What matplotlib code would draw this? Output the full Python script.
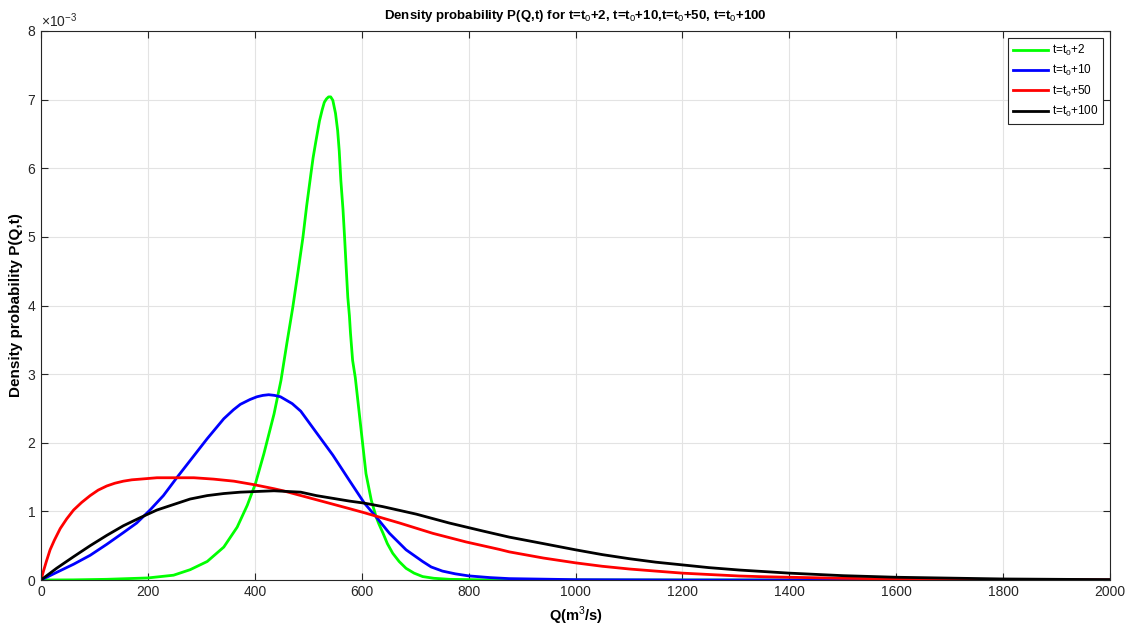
import matplotlib
matplotlib.use("Agg")
from matplotlib import pyplot as plt
from matplotlib.ticker import ScalarFormatter, MultipleLocator
import numpy as np

plt.rcParams['font.family'] = ['Liberation Sans', 'DejaVu Sans']
plt.rcParams['mathtext.fontset'] = 'custom'
plt.rcParams['mathtext.rm'] = 'Liberation Sans'
plt.rcParams['mathtext.bf'] = 'Liberation Sans:bold'

# P(Q,t) per curve, values in units of 1e-3
q_2 = [0, 60, 123, 200, 248, 279, 311, 342, 367, 386, 401, 417, 436, 449, 460,
       471, 481, 490, 497, 505, 509, 514, 521, 526, 530, 534, 538, 542, 546, 551,
       555, 558, 561, 565, 568, 571, 574, 577, 579, 583, 588, 593, 599, 608, 618,
       627, 632, 640, 648, 658, 670, 683, 698, 714, 735, 764, 850, 1000, 2000]
p_2 = [0, 0.002, 0.01, 0.03, 0.07, 0.15, 0.27, 0.48, 0.77, 1.09, 1.40, 1.84, 2.42, 2.91, 3.45,
       3.97, 4.50, 4.99, 5.45, 5.92, 6.15, 6.38, 6.69, 6.85, 6.96, 7.01, 7.04, 7.04, 6.99, 6.80,
       6.55, 6.25, 5.82, 5.40, 4.99, 4.55, 4.12, 3.85, 3.60, 3.20, 2.95, 2.60, 2.18, 1.55, 1.16,
       0.92, 0.82, 0.68, 0.53, 0.39, 0.27, 0.17, 0.10, 0.05, 0.025, 0.01, 0.0, 0.0, 0.0]

q_10 = [0, 29, 61, 92, 123, 154, 179, 204, 229, 254, 279, 311, 342, 360, 373, 391,
        404, 415, 426, 437, 448, 459, 470, 486, 515, 546, 577, 605, 627, 652, 683,
        714, 730, 751, 775, 800, 840, 876, 1000, 1200, 2000]
p_10 = [0, 0.11, 0.23, 0.36, 0.52, 0.69, 0.83, 1.02, 1.23, 1.49, 1.74, 2.06, 2.35, 2.48, 2.56, 2.63,
        2.67, 2.69, 2.70, 2.69, 2.67, 2.62, 2.57, 2.46, 2.15, 1.82, 1.45, 1.12, 0.92, 0.68, 0.44,
        0.27, 0.19, 0.13, 0.09, 0.06, 0.035, 0.02, 0.005, 0.0, 0.0]

q_50 = [0, 5, 10, 17, 25, 36, 48, 61, 76, 92, 107, 123, 138, 154, 170, 186, 217,
        254, 286, 323, 361, 398, 436, 453, 515, 577, 605, 627, 671, 733, 795, 858,
        876, 940, 1000, 1050, 1101, 1150, 1200, 1250, 1307, 1350, 1400, 1500, 1600,
        1700, 1800, 2000]
p_50 = [0, 0.14, 0.27, 0.44, 0.58, 0.75, 0.89, 1.02, 1.13, 1.23, 1.31, 1.37, 1.41, 1.44, 1.46, 1.47, 1.49,
        1.49, 1.49, 1.47, 1.44, 1.39, 1.33, 1.30, 1.17, 1.04, 0.98, 0.93, 0.83, 0.68, 0.555, 0.445,
        0.41, 0.32, 0.25, 0.20, 0.16, 0.13, 0.10, 0.08, 0.058, 0.048, 0.04, 0.025, 0.015,
        0.01, 0.005, 0.002]

q_100 = [0, 29, 61, 92, 123, 154, 186, 217, 248, 279, 311, 342, 373, 404, 436, 486,
         515, 577, 605, 639, 702, 764, 826, 876, 940, 1000, 1050, 1101, 1150, 1200,
         1250, 1307, 1400, 1501, 1600, 1800, 2000]
p_100 = [0, 0.17, 0.34, 0.50, 0.65, 0.79, 0.91, 1.02, 1.10, 1.18, 1.23, 1.26, 1.28, 1.29, 1.30, 1.28,
         1.23, 1.15, 1.12, 1.07, 0.96, 0.83, 0.715, 0.625, 0.53, 0.44, 0.37, 0.31, 0.26, 0.22,
         0.18, 0.145, 0.10, 0.063, 0.04, 0.015, 0.005]

series = [
    (q_2, p_2, '#00ff00', r't=t$_0$+2'),
    (q_10, p_10, '#0000ff', r't=t$_0$+10'),
    (q_50, p_50, '#ff0000', r't=t$_0$+50'),
    (q_100, p_100, '#000000', r't=t$_0$+100'),
]

axcol = '#262626'

fig = plt.figure(figsize=(11.28, 6.26), dpi=100)
ax = fig.add_axes([41 / 1128, 46 / 626, 1069 / 1128, 549 / 626])

for q, p, c, lab in series:
    ax.plot(q, np.array(p) * 1e-3, color=c, lw=2.0, label=lab,
            solid_joinstyle='round')

ax.set_xlim(0, 2000)
ax.set_ylim(0, 8e-3)
ax.xaxis.set_major_locator(MultipleLocator(200))
ax.yaxis.set_major_locator(MultipleLocator(1e-3))

fmt = ScalarFormatter(useMathText=True)
fmt.set_powerlimits((0, 0))
ax.yaxis.set_major_formatter(fmt)
ax.yaxis.get_offset_text().set_fontsize(10)
ax.yaxis.get_offset_text().set_color(axcol)

ax.grid(True, color='#e3e3e3', lw=0.8)
ax.set_axisbelow(True)
ax.tick_params(direction='in', top=True, right=True, labelsize=10,
               colors=axcol, length=5, width=0.8)
for s in ax.spines.values():
    s.set_color(axcol)
    s.set_linewidth(0.8)

ax.set_title(r'Density probability P(Q,t) for t=t$_0$+2, t=t$_0$+10,t=t$_0$+50, t=t$_0$+100',
             fontsize=9.5, fontweight='bold', pad=9)
ax.set_xlabel(r'Q(m$^3$/s)', fontsize=10.5, fontweight='bold', labelpad=4)
ax.set_ylabel('Density probability P(Q,t)', fontsize=11, fontweight='bold', labelpad=3)

leg = ax.legend(loc='upper right', fontsize=8.5, fancybox=False, framealpha=1,
                edgecolor=axcol, handlelength=3.0, borderaxespad=0.6,
                handletextpad=0.3, labelspacing=0.45)
leg.get_frame().set_linewidth(0.8)

fig.savefig('out.png', dpi=100)
